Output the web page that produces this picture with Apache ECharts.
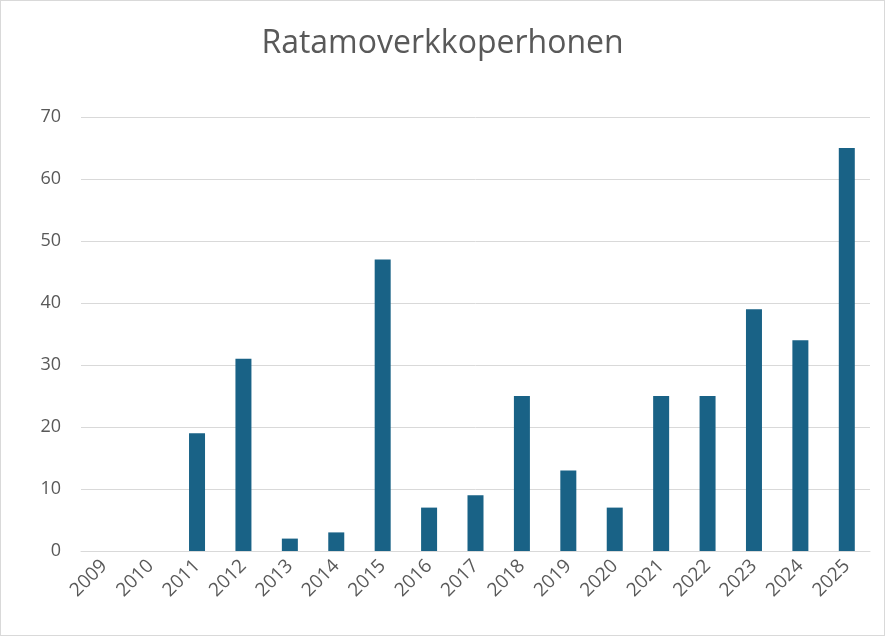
<!DOCTYPE html>
<html>
<head>
<meta charset="utf-8">
<script src="https://cdn.jsdelivr.net/npm/echarts@6/dist/echarts.min.js"></script>
<style>
  html, body { margin: 0; padding: 0; background: #fff; }
  #chart {
    width: 883px;
    height: 634px;
    border: 1px solid #d9d9d9;
  }
</style>
</head>
<body>
<div id="chart"></div>
<script>
const years = ['2009', '2010', '2011', '2012', '2013', '2014', '2015', '2016', '2017',
  '2018', '2019', '2020', '2021', '2022', '2023', '2024', '2025'];
const counts = [0, 0, 19, 31, 2, 3, 47, 7, 9, 25, 13, 7, 25, 25, 39, 34, 65];

const myChart = echarts.init(document.getElementById('chart'));

myChart.setOption({
  animation: false,
  title: {
    text: 'Ratamoverkkoperhonen',
    left: 'center',
    top: 22,
    textStyle: {
      color: '#595959',
      fontSize: 32,
      fontWeight: 'normal',
      fontFamily: 'Open Sans'
    }
  },
  grid: {
    left: 80,
    right: 14,
    top: 116,
    bottom: 84
  },
  xAxis: {
    type: 'category',
    data: years,
    axisLine: { lineStyle: { color: '#d9d9d9', width: 1 } },
    axisTick: { show: false },
    axisLabel: {
      rotate: 45,
      color: '#595959',
      fontSize: 19,
      fontFamily: 'Open Sans',
      margin: 12
    }
  },
  yAxis: {
    type: 'value',
    min: 0,
    max: 70,
    interval: 10,
    axisLine: { show: false },
    axisTick: { show: false },
    splitLine: { lineStyle: { color: '#d9d9d9', width: 1 } },
    axisLabel: {
      color: '#595959',
      fontSize: 18,
      fontFamily: 'Open Sans',
      margin: 20
    }
  },
  series: [
    {
      type: 'bar',
      data: counts,
      barWidth: 16,
      itemStyle: { color: '#196286' }
    }
  ]
});
</script>
</body>
</html>
